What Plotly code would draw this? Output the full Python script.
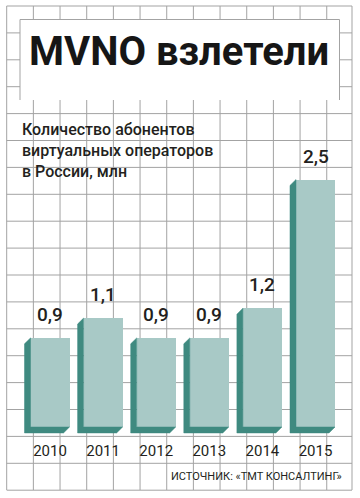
import plotly.graph_objects as go

# ---------------- data ----------------
years = ["2010", "2011", "2012", "2013", "2014", "2015"]
values = [0.9, 1.1, 0.9, 0.9, 1.2, 2.5]
value_labels = [f"{v:.1f}".replace(".", ",") for v in values]

title_text = "MVNO взлетели"
subtitle_lines = ["Количество абонентов", "виртуальных операторов", "в России, млн"]
source_text = "ИСТОЧНИК: «ТМТ КОНСАЛТИНГ»"

# ---------------- style ----------------
W, H = 360, 498
MB = 61                      # bottom margin -> plot area is 0..437 px
PH = H - MB
FRONT = "#a8c9c6"
SIDE = "#3f8a80"
GRID = "#a3a3a3"
TXT = "#231f20"
FONT = "Roboto, sans-serif"

x_pos = list(range(len(years)))
bar_w = 0.735
dx, dy = 0.113, 0.06         # 3D extrusion offset in data units

def px(xp):
    return xp / W

def py(yp):
    return (PH - yp) / PH

fig = go.Figure()

# dark extrusion (left side + bottom) of each bar
sx, sy = [], []
for xi, v in zip(x_pos, values):
    xl, xr = xi - bar_w / 2, xi + bar_w / 2
    sx += [xl, xl - dx, xl - dx, xr - dx, xr, xl, xl, None]
    sy += [v, v - dy, -dy, -dy, 0, 0, v, None]
fig.add_trace(go.Scatter(x=sx, y=sy, mode="lines", fill="toself",
                         fillcolor=SIDE, line=dict(color=SIDE, width=0.5),
                         hoverinfo="skip", showlegend=False))

# front faces
fig.add_trace(go.Bar(x=x_pos, y=values, width=bar_w, marker=dict(color=FRONT, line=dict(width=0)),
                     showlegend=False, hoverinfo="skip"))

shapes = []
# grid
for k in range(13):
    xg = 6.7 + 26.67 * k
    shapes.append(dict(type="line", xref="paper", yref="paper", x0=px(xg), x1=px(xg),
                       y0=py(6), y1=py(490), line=dict(color=GRID, width=1), layer="below"))
shapes.append(dict(type="line", xref="paper", yref="paper", x0=px(352), x1=px(352),
                   y0=py(6), y1=py(490), line=dict(color=GRID, width=1), layer="below"))
for k in range(19):
    yg = 6 + 26.9 * k
    shapes.append(dict(type="line", xref="paper", yref="paper", x0=px(6.7), x1=px(352),
                       y0=py(yg), y1=py(yg), line=dict(color=GRID, width=1), layer="below"))
# title box
shapes.append(dict(type="rect", xref="paper", yref="paper", x0=px(20), x1=px(339.5),
                   y0=py(100), y1=py(19.5), fillcolor="white", line=dict(width=0), layer="below"))
for (a, b, c, d) in [(20, 19.5, 339.5, 19.5), (20, 19.5, 20, 100), (339.5, 19.5, 339.5, 100)]:
    shapes.append(dict(type="line", xref="paper", yref="paper", x0=px(a), y0=py(b), x1=px(c), y1=py(d),
                       line=dict(color=GRID, width=1), layer="below"))

annotations = []
annotations.append(dict(text=f"<b>{title_text}</b>", xref="paper", yref="paper", x=px(179), y=py(52),
                        xanchor="center", yanchor="middle", showarrow=False,
                        font=dict(family=FONT, size=40, color="#161616")))
annotations.append(dict(text="<br>".join(subtitle_lines), xref="paper", yref="paper",
                        x=px(20), y=py(118), xanchor="left", yanchor="top", align="left",
                        showarrow=False,
                        font=dict(family=FONT, size=16, color=TXT, weight=500)))
for xi, v, lab in zip(x_pos, values, value_labels):
    annotations.append(dict(text=lab, x=xi, y=v, xref="x", yref="y", xanchor="center", yanchor="bottom",
                            yshift=10, showarrow=False,
                            font=dict(family=FONT, size=19, color=TXT, weight=500)))
annotations.append(dict(text=source_text, xref="paper", yref="paper", x=px(344), y=py(476),
                        xanchor="right", yanchor="middle", showarrow=False,
                        font=dict(family=FONT, size=11, color=TXT)))

fig.update_layout(
    width=W, height=H, autosize=False,
    margin=dict(l=0, r=0, t=0, b=MB, pad=0),
    paper_bgcolor="white", plot_bgcolor="rgba(0,0,0,0)",
    shapes=shapes, annotations=annotations,
    xaxis=dict(range=[-50 / 53.1, (W - 50) / 53.1], tickvals=x_pos, ticktext=years,
               showgrid=False, zeroline=False, showline=False, ticks="", ticklabelstandoff=3,
               tickfont=dict(family=FONT, size=15, color=TXT), fixedrange=True),
    yaxis=dict(range=[-10 / 99, 427 / 99], showgrid=False, zeroline=False, showline=False,
               showticklabels=False, ticks="", fixedrange=True),
    bargap=0, showlegend=False,
)

fig.write_html("out.html", post_script="document.body.style.margin='0';",
               config={"displayModeBar": False})
